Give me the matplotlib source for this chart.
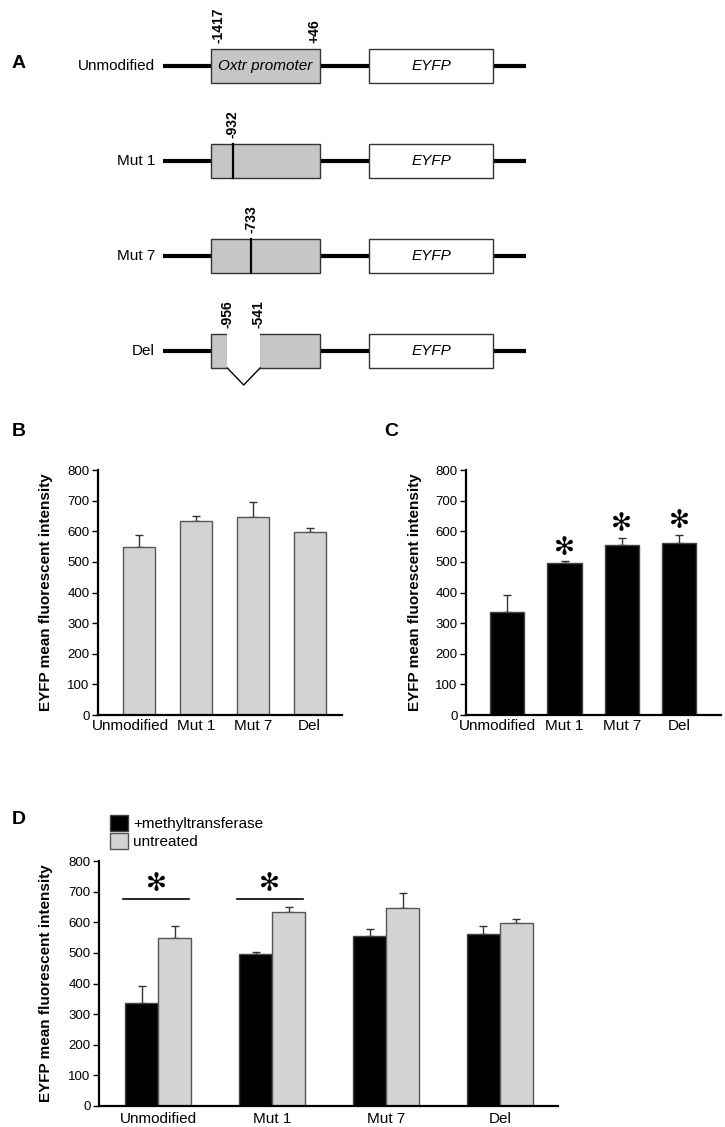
import numpy as np
import matplotlib
matplotlib.use("Agg")
import matplotlib.pyplot as plt
from matplotlib.patches import Rectangle
from matplotlib.transforms import ScaledTranslation

plt.rcParams["font.family"] = ["Liberation Sans", "DejaVu Sans"]

W, H = 725, 1127

# ── Data ─────────────────────────────────────────────────────────────────────
constructs = ["Unmodified", "Mut 1", "Mut 7", "Del"]
# site labels on the promoter box: (relative position inside box, label)
site_labels = [
    [(0.07, "-1417"), (0.95, "+46")],
    [(0.20, "-932")],
    [(0.37, "-733")],
    [(0.155, "-956"), (0.44, "-541")],
]
mut_marks = [None, 0.20, 0.37, None]       # point mutation line inside box
del_span = [None, None, None, (0.15, 0.45)]  # deleted region inside box

untreated_mean = [550, 635, 648, 597]
untreated_err = [38, 15, 48, 12]
methyl_mean = [335, 495, 555, 563]
methyl_err = [57, 7, 23, 25]
sig_C = [False, True, True, True]          # methyltransferase vs unmodified
sig_D = [True, True, False, False]          # methyltransferase vs untreated
sig_D_level = 675

YLABEL = "EYFP mean fluorescent intensity"
GRAY = "#d3d3d3"
BOXGRAY = "#c6c6c6"

fig = plt.figure(figsize=(W / 100, H / 100), dpi=100)


def px_axes(x0, y0, x1, y1):
    return fig.add_axes([x0 / W, 1 - y1 / H, (x1 - x0) / W, (y1 - y0) / H])


def panel_letter(x, y, s):
    fig.text(x / W, 1 - y / H, s, fontsize=14, fontweight="bold", ha="left", va="center")


def ylabel(x, y, s):
    fig.text(x / W, 1 - y / H, s, fontsize=11, fontweight="bold", rotation=90,
             ha="center", va="center")


def style_bar_axes(ax, xlim):
    ax.set_xlim(*xlim)
    ax.set_ylim(0, 800)
    ax.set_yticks(np.arange(0, 801, 100))
    for s in ["top", "right"]:
        ax.spines[s].set_visible(False)
    ax.spines["left"].set_linewidth(1.6)
    ax.spines["bottom"].set_linewidth(1.6)
    ax.tick_params(axis="y", labelsize=9.5, length=4, width=1, pad=2)
    ax.tick_params(axis="x", labelsize=11, length=0, pad=3)


def nudge_first_label(ax, dx_px):
    lab = ax.get_xticklabels()[0]
    lab.set_transform(lab.get_transform() + ScaledTranslation(dx_px / 100, 0, fig.dpi_scale_trans))


# ── Panel A: construct schematic ─────────────────────────────────────────────
axA = px_axes(0, 0, W, 400)
axA.set_xlim(0, W)
axA.set_ylim(400, 0)
axA.axis("off")
row_y = [66, 161, 256, 351]
box_x0, box_x1 = 211, 320
eyfp_x0, eyfp_x1 = 369, 493
half_h = 17
for i, name in enumerate(constructs):
    y = row_y[i]
    axA.plot([163, 526], [y, y], color="black", lw=3, solid_capstyle="butt", zorder=1)
    axA.text(155, y, name, ha="right", va="center", fontsize=11)
    axA.add_patch(Rectangle((box_x0, y - half_h), box_x1 - box_x0, 2 * half_h,
                            facecolor=BOXGRAY, edgecolor="#333333", lw=1, zorder=2))
    axA.add_patch(Rectangle((eyfp_x0, y - half_h), eyfp_x1 - eyfp_x0, 2 * half_h,
                            facecolor="white", edgecolor="#333333", lw=1, zorder=2))
    axA.text((eyfp_x0 + eyfp_x1) / 2, y, "EYFP", style="italic", fontsize=11,
             ha="center", va="center", zorder=3)
    bw = box_x1 - box_x0
    if i == 0:
        axA.text((box_x0 + box_x1) / 2, y, "Oxtr promoter", style="italic", fontsize=11,
                 ha="center", va="center", zorder=3)
    if mut_marks[i] is not None:
        mx = box_x0 + mut_marks[i] * bw
        axA.plot([mx, mx], [y - half_h, y + half_h], color="black", lw=1.6, zorder=3)
    if del_span[i] is not None:
        g0 = box_x0 + del_span[i][0] * bw
        g1 = box_x0 + del_span[i][1] * bw
        axA.add_patch(Rectangle((g0, y - half_h - 2), g1 - g0, 2 * half_h + 4,
                                facecolor="white", edgecolor="none", zorder=4))
        axA.plot([g0, (g0 + g1) / 2, g1], [y + half_h, y + half_h + 17, y + half_h],
                 color="black", lw=1, zorder=5)
    for frac, lab in site_labels[i]:
        axA.text(box_x0 + frac * bw, y - half_h - 6, lab, rotation=90, fontsize=10,
                 fontweight="bold", ha="center", va="bottom")
panel_letter(12, 63, "A")

# ── Panel B: untreated constructs ────────────────────────────────────────────
x4 = np.arange(len(constructs))
axB = px_axes(98, 470, 342, 715)
axB.bar(x4, untreated_mean, width=0.56, color=GRAY, edgecolor="#555555", lw=1, zorder=2)
axB.errorbar(x4, untreated_mean, yerr=[np.zeros(4), untreated_err], fmt="none",
             ecolor="#333333", elinewidth=1, capsize=3, capthick=1, zorder=1)
style_bar_axes(axB, (-0.72, 3.57))
axB.set_xticks(x4, constructs)
nudge_first_label(axB, -9)
panel_letter(12, 432, "B")
ylabel(46, 592, YLABEL)

# ── Panel C: methyltransferase-treated constructs ────────────────────────────
axC = px_axes(466, 470, 721, 715)
axC.bar(x4, methyl_mean, width=0.6, color="black", edgecolor="#444444", lw=1, zorder=2)
axC.errorbar(x4, methyl_mean, yerr=[np.zeros(4), methyl_err], fmt="none",
             ecolor="#333333", elinewidth=1, capsize=3, capthick=1, zorder=1)
style_bar_axes(axC, (-0.72, 3.73))
axC.set_xticks(x4, constructs)
nudge_first_label(axC, -10)
for i, s in enumerate(sig_C):
    if s:
        axC.text(x4[i], methyl_mean[i] + methyl_err[i] + 5, "\u273b", family="DejaVu Sans",
                 fontsize=18, fontweight="bold", ha="center", va="bottom")
panel_letter(384, 432, "C")
ylabel(415, 592, YLABEL)

# ── Panel D: both conditions side by side ────────────────────────────────────
axD = px_axes(99, 861, 558, 1106)
bw = 0.29
axD.bar(x4 - bw / 2, methyl_mean, width=bw, color="black", edgecolor="#444444", lw=1,
        zorder=2, label="+methyltransferase")
axD.bar(x4 + bw / 2, untreated_mean, width=bw, color=GRAY, edgecolor="#555555", lw=1,
        zorder=2, label="untreated")
axD.errorbar(x4 - bw / 2, methyl_mean, yerr=[np.zeros(4), methyl_err], fmt="none",
             ecolor="#333333", elinewidth=1, capsize=3, capthick=1, zorder=1)
axD.errorbar(x4 + bw / 2, untreated_mean, yerr=[np.zeros(4), untreated_err], fmt="none",
             ecolor="#333333", elinewidth=1, capsize=3, capthick=1, zorder=1)
style_bar_axes(axD, (-0.52, 3.51))
axD.set_xticks(x4, constructs)
axD.tick_params(axis="x", labelsize=11, pad=4)
for i, s in enumerate(sig_D):
    if s:
        axD.plot([x4[i] - 0.31, x4[i] + 0.27], [sig_D_level, sig_D_level],
                 color="black", lw=1.2, clip_on=False)
        axD.text(x4[i] - 0.02, sig_D_level + 10, "\u273b", family="DejaVu Sans",
                 fontsize=18, fontweight="bold", ha="center", va="bottom")
axD.legend(loc="upper left", bbox_to_anchor=(110 / W, 1 - 815 / H),
           bbox_transform=fig.transFigure, frameon=False, fontsize=11,
           handlelength=1.2, handleheight=1.2, handletextpad=0.3,
           labelspacing=0.15, borderpad=0, borderaxespad=0)
panel_letter(12, 820, "D")
ylabel(46, 983, YLABEL)

fig.savefig("out.png", dpi=100)
